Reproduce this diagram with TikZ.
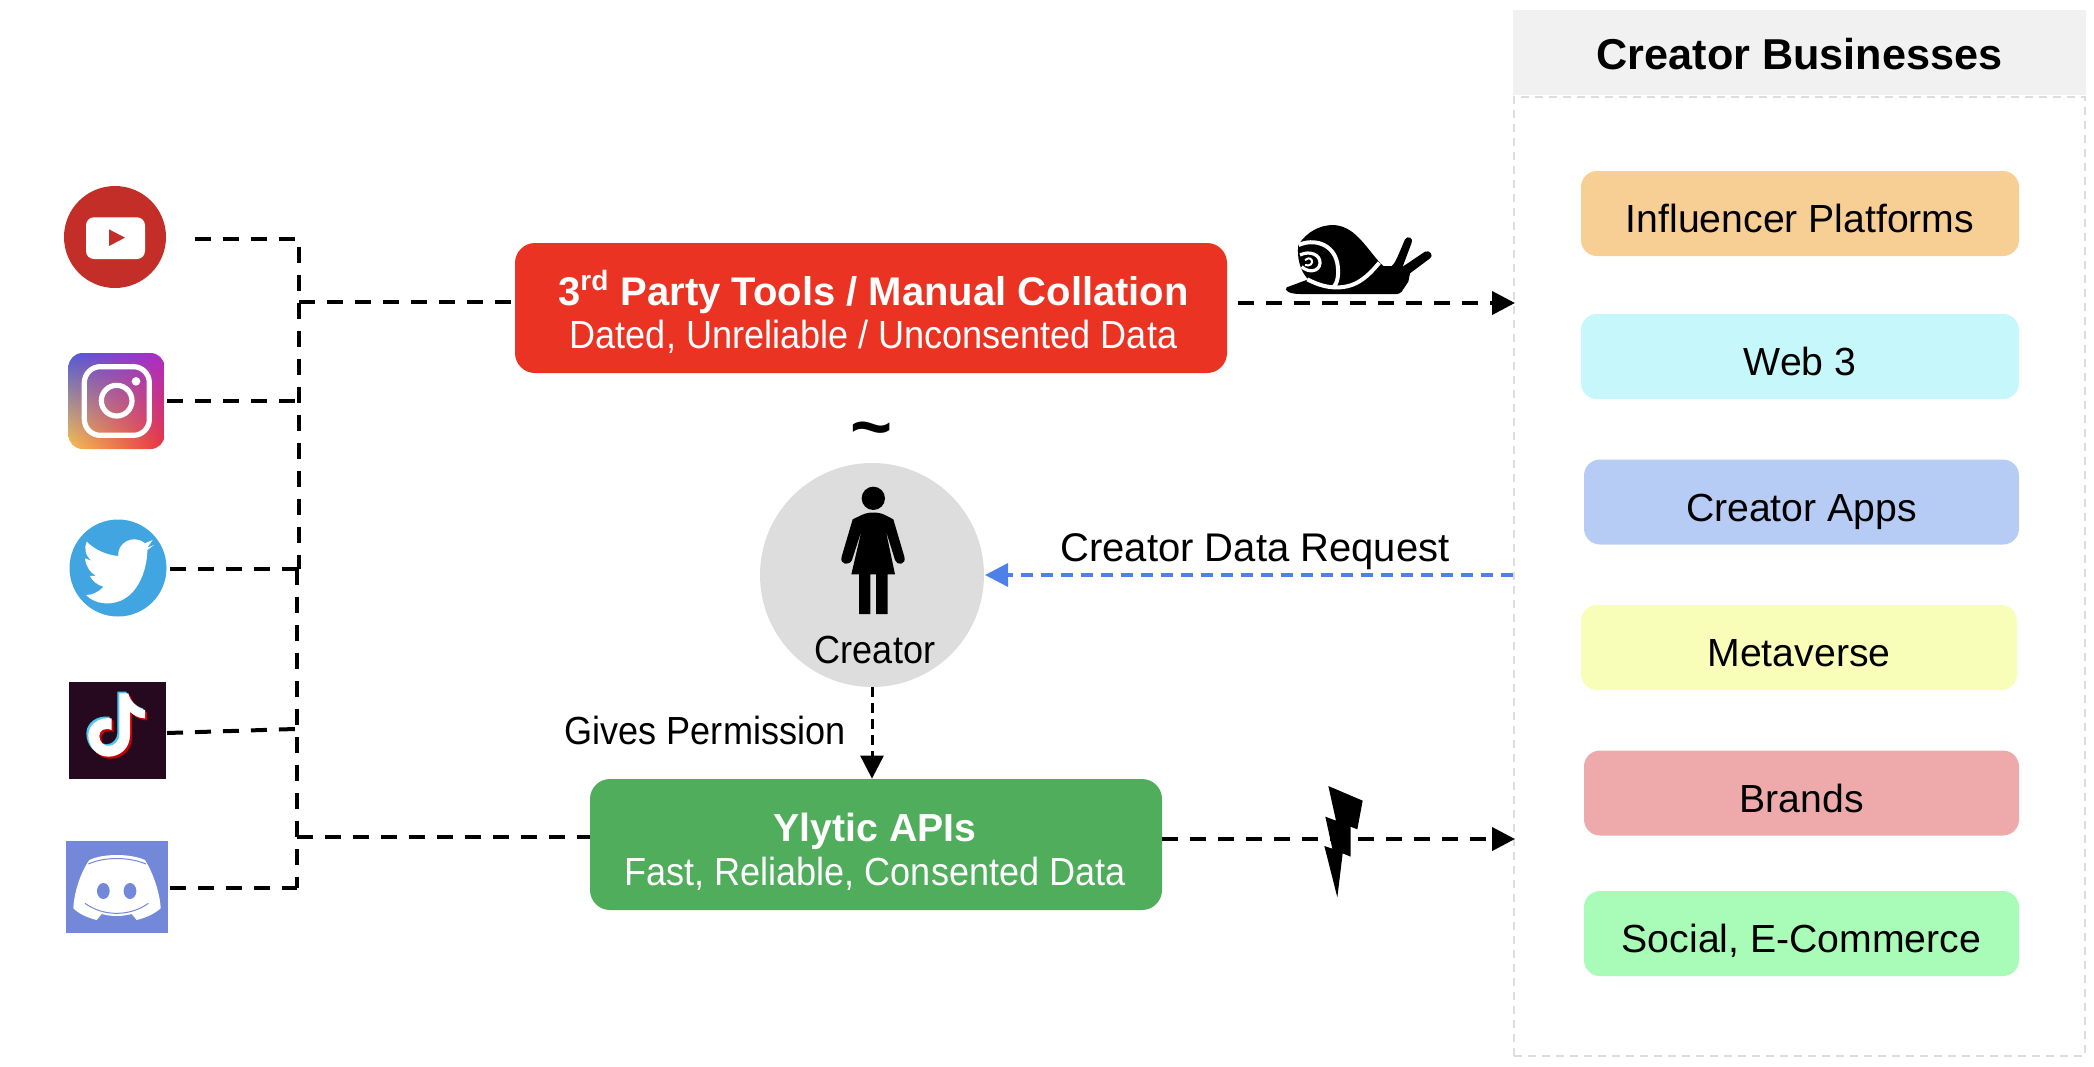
\documentclass[tikz,border=0pt]{standalone}
\usepackage{fontspec}
\setmainfont{Liberation Sans}
\newfontfamily\narrowfont{Liberation Sans}[FakeStretch=0.92]
\usetikzlibrary{arrows.meta,shadings}
\definecolor{ytred}{HTML}{C32F28}
\definecolor{twblue}{HTML}{40A5E0}
\definecolor{ttdark}{HTML}{26091F}
\definecolor{dcblue}{HTML}{7388D8}
\definecolor{redbox}{HTML}{EA3323}
\definecolor{greenbox}{HTML}{4FAD5B}
\definecolor{reqblue}{HTML}{4F7FE8}
\definecolor{bizgrey}{HTML}{DDDDDD}
\definecolor{igtl}{HTML}{4F5BD5}
\definecolor{igtr}{HTML}{B02AC6}
\definecolor{igbl}{HTML}{F8C04F}
\definecolor{igbr}{HTML}{E8333F}
\newcommand{\tiktoknote}{(238,160) -- (265,160) .. controls (270,185) and (295,205) .. (315,210) -- (315,235) .. controls (295,235) and (280,225) .. (270,215) -- (270,285) .. controls (270,325) and (240,350) .. (205,350) .. controls (170,350) and (145,320) .. (145,285) .. controls (145,255) and (175,230) .. (215,235) -- (215,270) .. controls (195,262) and (178,270) .. (178,288) .. controls (178,305) and (192,318) .. (205,318) .. controls (225,318) and (238,300) .. (238,285) -- cycle}
\tikzset{
  dashline/.style={line width=2pt,dash pattern=on 8pt off 6pt},
  thintip/.style={-{Triangle[length=11.5pt,width=11.5pt]}},
  maintext/.style={font=\fontsize{19.6}{21.5}\selectfont,inner sep=0pt},
  headbox/.style={rounded corners=10pt,inner sep=0pt},
  headtext/.style={inner sep=0pt,text=white,align=center,font=\fontsize{19.6}{21.5}\selectfont},
  bizbox/.style={rounded corners=8pt,inner sep=0pt,text height=19.4pt,text depth=0pt,font=\fontsize{19.6}{21.5}\selectfont},
  iconbox/.style={inner sep=0pt,minimum width=#1pt,minimum height=#1pt}
}
\begin{document}
\begin{tikzpicture}[x=0.5pt,y=-0.5pt]
  \useasboundingbox (0,0) rectangle (2094,1066);
  \node[fill=bizgrey!40,minimum width=286.5pt,minimum height=42.5pt,inner sep=0pt,text height=16.8pt,text depth=0pt,font=\fontsize{21.6}{24}\selectfont\bfseries] (bizhead) at (1799.5,52.5) {Creator Businesses};
  \node[draw=bizgrey,line width=1pt,dash pattern=on 4pt off 3pt,minimum width=285.5pt,minimum height=479.5pt,inner sep=0pt] (bizbody) at (1799.5,576.5) {};
  \foreach \name/\lbl/\col/\cx/\cy/\w in {
    infl/{Influencer Platforms}/F7CE93/1800/213.5/219,
    webthree/{Web 3}/C6F7FB/1800/356.5/219,
    apps/{Creator Apps}/B7CCF5/1801.5/502/217.5,
    meta/{Metaverse}/F8FDB8/1799/647.5/218,
    brands/{Brands}/EEAAAA/1801.5/793/217.5,
    social/{Social, E-Commerce}/A9FBB8/1801.5/933.5/217.5}{
    \definecolor{bizfill}{HTML}{\col}
    \node[bizbox,fill=bizfill,minimum width=\w pt,minimum height=42.5pt] (\name) at (\cx,\cy) {\lbl};
  }

  \node[headbox,fill=redbox,minimum width=356pt,minimum height=65pt] (redtools) at (871,308) {};
  \node[headtext] (redlabel) at (873.5,311.5) {\fontsize{20}{21.5}\selectfont\textbf{3\textsuperscript{rd} Party Tools / Manual Collation}\\\narrowfont Dated, Unreliable / Unconsented Data};
  \node[headbox,fill=greenbox,minimum width=286pt,minimum height=65.5pt] (ylytic) at (876,844.5) {};
  \node[headtext] (ylyticlabel) at (875,851.5) {\textbf{Ylytic APIs}\\[0.5pt]\narrowfont Fast, Reliable, Consented Data};
  \node[circle,fill=bizgrey,minimum size=112pt,inner sep=0pt] (creator) at (872,575) {};
  \node[maintext] (creatorlabel) at (875,650) {\narrowfont Creator};
  \node[font=\fontsize{36}{36}\selectfont\bfseries,inner sep=0pt,anchor=base] (tilde) at (872,451) {\textasciitilde};
  \node[maintext,font=\fontsize{20}{21.5}\selectfont] (request) at (1255,552) {Creator Data Request};
  \node[maintext] (permission) at (705,730) {\narrowfont Gives Permission};

  \node[circle,fill=ytred,iconbox=51] (youtube) at (115,237) {};
  \node[rounded corners=7pt,upper left=igtl,upper right=igtr,lower left=igbl,lower right=igbr,iconbox=48] (insta) at (116.5,401) {};
  \node[circle,fill=twblue,iconbox=48.5] (twitter) at (118,568) {};
  \node[fill=ttdark,iconbox=48.5] (tiktok) at (117.5,730) {};
  \node[fill=dcblue,minimum width=51pt,minimum height=46pt,inner sep=0pt] (discord) at (117,887) {};

  \begin{scope}[shift={(40,160)},scale=1/3]
    \fill[white,rounded corners=4pt] (138,172) rectangle (315,297);
    \fill[ytred] (207,208) -- (255,233) -- (207,258) -- cycle;
    \draw[white,line width=2.6pt,rounded corners=8pt] (133,620) rectangle (328,826);
    \draw[white,line width=2.6pt] (230,722) circle (46);
    \fill[white] (288,664) circle (13);
    \fill[white] (342,1155) -- (322,1170) .. controls (322,1230) and (290,1335) .. (195,1330) .. controls (170,1328) and (150,1318) .. (138,1305) .. controls (155,1305) and (175,1298) .. (190,1280) .. controls (172,1275) and (155,1262) .. (150,1248) -- (168,1247) .. controls (150,1238) and (138,1220) .. (135,1195) -- (155,1203) .. controls (135,1185) and (132,1165) .. (140,1145) .. controls (165,1170) and (200,1185) .. (235,1188) .. controls (230,1150) and (280,1120) .. (315,1150) -- (338,1140) -- (322,1163) -- cycle;
  \end{scope}
  \begin{scope}[shift={(40,640)},scale=1/3]
    \fill[cyan!70!white,shift={(-6,-5)}] \tiktoknote;
    \fill[red!80!black,shift={(6,6)}] \tiktoknote;
    \fill[white] \tiktoknote;
    \fill[white] (148,660) .. controls (190,640) and (270,640) .. (315,660) .. controls (340,700) and (360,760) .. (362,805) .. controls (340,825) and (310,835) .. (290,840) -- (275,822) .. controls (245,830) and (215,830) .. (185,822) -- (170,840) .. controls (150,835) and (120,825) .. (100,805) .. controls (102,760) and (120,700) .. (148,660) -- cycle;
    \draw[dcblue,line width=0.5pt] (145,672) .. controls (195,650) and (265,650) .. (318,672);
    \draw[dcblue,line width=0.5pt] (135,790) .. controls (190,830) and (270,830) .. (325,790);
    \fill[dcblue] (190,753) ellipse [x radius=19,y radius=24];
    \fill[dcblue] (270,753) ellipse [x radius=19,y radius=24];
  \end{scope}
  \begin{scope}[shift={(720,400)},scale=1/3]
    \fill (460,295) circle (35);
    \fill (425,345) .. controls (445,335) and (475,335) .. (495,345) -- (520,358) -- (553,470) .. controls (560,495) and (530,498) .. (525,480) -- (497,390) -- (525,523) -- (503,523) -- (503,642) -- (468,642) -- (468,523) -- (451,523) -- (451,642) -- (417,642) -- (417,523) -- (394,523) -- (425,390) -- (396,480) .. controls (388,498) and (358,495) .. (365,470) -- (398,358) -- cycle;
  \end{scope}
  \begin{scope}[shift={(1250,200)},scale=1/3]
    \fill (110,262) -- (175,238) .. controls (150,215) and (140,170) .. (145,135) .. controls (170,95) and (210,75) .. (250,75) .. controls (310,78) and (340,130) .. (385,183) -- (400,198) -- (425,198) .. controls (435,190) and (440,175) .. (445,165) -- (465,118) .. controls (472,105) and (492,115) .. (485,128) -- (458,200) -- (525,155) .. controls (540,148) and (552,168) .. (540,175) -- (480,220) -- (475,245) -- (455,275) .. controls (450,280) and (445,282) .. (440,282) -- (150,282) .. controls (120,282) and (100,272) .. (110,262) -- cycle;
    \draw[white,line width=2pt] (388,188) .. controls (345,240) and (310,265) .. (250,262) .. controls (220,260) and (195,250) .. (172,238);
    \draw[white,line width=2pt] (146,135) .. controls (190,115) and (250,130) .. (262,190) .. controls (268,225) and (262,250) .. (250,262);
    \draw[white,line width=1.6pt] (150,165) .. controls (180,150) and (212,165) .. (210,190) .. controls (208,215) and (175,220) .. (155,200);
    \draw[white,line width=1pt] (165,195) .. controls (180,200) and (190,190) .. (185,180) .. controls (180,172) and (170,175) .. (165,180);
  \end{scope}
  \begin{scope}[shift={(1280,760)},scale=1/3]
    \fill (145,78) -- (248,122) -- (232,208) -- (212,200) -- (212,290) -- (188,280) -- (172,412) -- (133,258) -- (157,266) -- (136,170) -- (168,182) -- cycle;
  \end{scope}

  \coordinate (ytend) at (195,239);
  \coordinate (jyt) at (299,239);
  \coordinate (jred) at (299,302);
  \coordinate (jinsta) at (297,401);
  \coordinate (jtw) at (299,569);
  \coordinate (jtwlow) at (297,569);
  \coordinate (jtt) at (295,729);
  \coordinate (jgreen) at (297,837);
  \coordinate (jdc) at (297,888);
  \coordinate (redout) at (1238,303);
  \coordinate (greenout) at (1162,839);
  \coordinate (creatorin) at (985,575);
  \coordinate (instaout) at (167,401);
  \coordinate (twout) at (170,569);
  \coordinate (ttout) at (167,733);
  \coordinate (dcout) at (170,888);

  \draw[dashline] (ytend) -- (jyt) -- (jtw);
  \draw[dashline] (jtwlow) -- (jdc);
  \draw[dashline] (dcout) -- (jdc);
  \draw[dashline] (jred) -- (redtools.west |- jred);
  \draw[dashline] (instaout) -- (jinsta);
  \draw[dashline] (twout) -- (jtwlow);
  \draw[dashline] (ttout) -- (jtt);
  \draw[dashline] (jgreen) -- (ylytic.west |- jgreen);
  \draw[dashline,thintip,shorten >=-1pt] (redout) -- (bizbody.west |- redout);
  \draw[dashline,thintip,shorten >=-1pt] (greenout) -- (bizbody.west |- greenout);
  \draw[reqblue,line width=1.7pt,dash pattern=on 6pt off 4pt,thintip] (bizbody.west |- creator) -- (creatorin);
  \draw[line width=1.5pt,dash pattern=on 5pt off 3pt,thintip] (creator.south) -- (ylytic.north -| creator);
\end{tikzpicture}
\end{document}
